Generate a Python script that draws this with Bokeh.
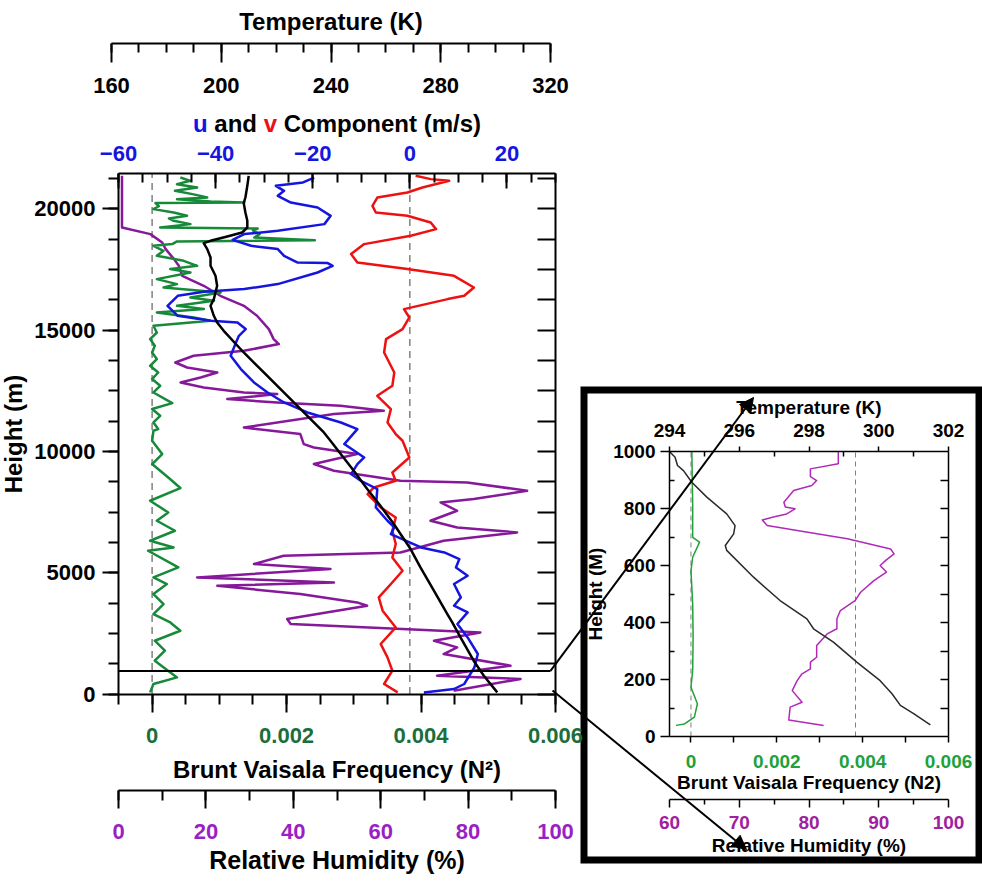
from bokeh.plotting import figure
from bokeh.models import Range1d, LinearAxis, FixedTicker, Arrow, NormalHead, Label
from bokeh.embed import file_html
from bokeh.resources import INLINE

FONT = "'Liberation Sans', Arial, sans-serif"

# ---------------- main profile data (height in m) ----------------
temp_h = [21354, 20942, 20461, 20229, 19842, 19500, 19224, 19018, 18853, 18676, 18581, 18334,
          17988, 17646, 17234, 16822, 16274, 15998, 15586, 15310, 14968, 14074, 13250, 12426,
          11602, 10778, 10436, 9200, 8446, 7758, 7004, 5974, 5216, 4256, 3296, 2950, 2332,
          1372, 754, 66]
temp_k = [210.0, 209.5, 208.8, 208.2, 208.8, 209.5, 209.5, 207.6, 202.2, 196.1, 193.6, 194.9,
          196.1, 196.1, 197.9, 198.5, 197.3, 196.1, 197.3, 198.5, 200.9, 208.2, 215.5, 222.8,
          230.1, 237.4, 239.8, 248.3, 253.2, 258.0, 262.9, 269.0, 272.6, 277.5, 282.4, 284.2,
          287.2, 292.0, 295.7, 300.6]

u_h = [21284, 21080, 20942, 20736, 20530, 20254, 20048, 19706, 19364, 19088, 18952, 18717,
       18470, 18334, 18058, 17782, 17760, 17646, 17370, 16892, 16686, 16575, 16410, 15998,
       15586, 15380, 15310, 15038, 14762, 14486, 13938, 13390, 12838, 12426, 12014, 11602,
       11190, 10918, 10300, 9748, 9476, 9064, 8788, 8446, 7688, 7140, 6864, 6592, 6040,
       5834, 5562, 5216, 4874, 4532, 3980, 3638, 3362, 2884, 2332, 1648, 1096, 412, 206, 66]
u_ms = [-19.7, -22.0, -27.6, -25.9, -27.2, -24.5, -19.0, -16.3, -17.6, -27.2, -34.1, -36.5,
        -32.7, -27.2, -25.9, -23.1, -16.9, -15.9, -19.0, -27.2, -34.1, -42.4, -47.8, -49.9,
        -47.8, -41.0, -35.5, -33.8, -35.2, -35.8, -36.9, -34.8, -32.1, -29.3, -25.9, -21.1,
        -14.2, -10.8, -13.5, -9.4, -10.8, -12.1, -10.1, -6.7, -7.0, -4.6, -3.2, -3.9, 2.3,
        7.1, 10.2, 9.5, 11.9, 9.1, 10.5, 9.1, 11.9, 9.8, 11.9, 14.0, 13.3, 11.2, 9.1, 2.9]

v_h = [21354, 21218, 21148, 20873, 20666, 20460, 20118, 19842, 19706, 19430, 19158, 18882,
       18540, 18128, 17782, 17510, 17234, 16752, 16410, 16274, 15862, 15516, 15038, 14626,
       14074, 13250, 12702, 12290, 11742, 11190, 10712, 10436, 9748, 9130, 8788, 8512, 8240,
       7688, 7276, 6728, 6180, 5628, 5080, 4532, 3980, 3432, 2744, 2060, 1508, 960, 412, 66]
v_ms = [1.2, 4.3, 8.1, 2.6, -0.5, -6.7, -7.7, -7.0, -0.5, 4.3, 5.4, 0.2,
        -9.4, -12.1, -10.8, -0.5, 9.1, 13.2, 11.2, 7.8, -1.2, -0.1, -1.5, -4.9,
        -5.3, -3.2, -3.6, -6.7, -3.9, -4.6, -2.9, -1.5, -0.1, -3.6, -2.9, -7.4, -8.7,
        -6.0, -2.9, -3.6, -2.9, -3.6, -1.5, -3.9, -6.4, -5.6, -2.9, -6.0, -4.6, -3.6, -5.3, -2.5]

n2_h = [21284, 21148, 21011, 20873, 20736, 20600, 20460, 20393, 20300, 20254, 20230, 20100,
        19982, 19842, 19706, 19600, 19500, 19364, 19224, 19180, 19100, 18952, 18812, 18700,
        18650, 18540, 18470, 18264, 18058, 17852, 17646, 17510, 17370, 17098, 16892, 16752,
        16546, 16340, 16204, 15998, 15862, 15722, 15516, 15380, 15174, 14898, 14626, 14350,
        14074, 13802, 13526, 13250, 12978, 12702, 12426, 11989, 11742, 11466, 11190, 10918,
        10848, 10436, 9888, 9476, 8924, 8487, 7964, 7482, 7140, 6728, 6316, 6040, 5904,
        5216, 4804, 4532, 4120, 3708, 3296, 2950, 2608, 2196, 1784, 1372, 684, 412, 66]
n2_val = [0.00042, 0.00057, 0.00037, 0.00067, 0.00034, 0.00060, 0.00082, 0.00037, 0.00087,
          0.00137, 0.00005, 0.00010, 0.00002, 0.00032, 0.00052, 0.00025, 0.00032, 0.00057,
          0.00012, 0.00157, 0.00150, 0.00160, 0.00152, 0.00242, 0.00037, 0.00030, 0.00002,
          0.00017, 0.00007, 0.00047, 0.00067, 0.00027, 0.00057, 0.00007, 0.00037, 0.00017,
          0.00102, 0.00057, 0.00092, 0.00037, 0.00077, 0.00007, 0.00062, 0.00087, 0.00002,
          0.00007, -0.00003, 0.00004, 0.0, 0.00007, -0.00003, 0.00009, 0.0, 0.00012, 0.00002,
          0.00030, 0.0, 0.00012, 0.00002, 0.00009, 0.00002, 0.0, 0.00015, 0.0, 0.00024,
          0.00042, -0.00003, 0.00024, 0.00007, 0.00034, -0.00003, 0.00032, -0.00006, 0.00039,
          0.00002, 0.00022, 0.00002, 0.00017, 0.00002, 0.00027, 0.00042, 0.00004, 0.00019,
          0.00004, 0.00037, 0.00002, -0.00003]

rh_h = [21354, 19224, 18952, 18606, 18334, 17922, 17646, 17234, 16822, 16410, 15998, 15586,
        15038, 14626, 14420, 14144, 13938, 13662, 13456, 13250, 13044, 12838, 12632, 12426,
        12360, 12154, 12014, 11878, 11672, 11536, 10984, 10712, 10300, 10160, 9888, 9476,
        9200, 8788, 8718, 8376, 8034, 7894, 7552, 7140, 6864, 6658, 6316, 5834, 5698, 5356,
        5150, 4804, 4598, 4462, 4120, 3774, 3638, 3090, 2884, 2538, 2196, 1920, 1648, 1166,
        754, 618, 136]
rh_pct = [0.8, 0.8, 7.3, 10.0, 10.8, 12.7, 13.8, 14.6, 19.5, 23.3, 28.7, 31.7,
          34.4, 35.5, 36.7, 28.7, 17.2, 13.0, 15.7, 22.6, 18.8, 14.2, 19.5, 28.7,
          36.3, 24.9, 36.3, 50.8, 60.7, 49.3, 28.7, 41.6, 42.4, 44.7, 54.6, 44.7,
          49.3, 64.5, 79.8, 93.5, 81.3, 73.7, 77.5, 71.4, 77.5, 91.2, 74.4, 64.5, 37.8, 31.0,
          48.5, 18.0, 49.3, 22.6, 41.6, 54.6, 56.9, 38.6, 39.4, 82.8, 72.2, 77.5, 74.4, 89.7,
          72.9, 92.0, 76.7]

# ---------------- inset (lowest 1000 m) ----------------
in_t_h = [1000, 980, 951, 933, 892, 840, 781, 740, 711, 670, 653, 559, 477, 413, 378, 331,
          261, 196, 150, 109, 80, 41]
in_t_k = [294.0, 294.16, 294.23, 294.40, 294.64, 295.07, 295.64, 295.88, 295.84, 295.60,
          295.64, 296.41, 297.17, 297.94, 298.13, 298.70, 299.37, 300.04, 300.38, 300.62,
          301.0, 301.48]
in_rh_h = [1000, 957, 939, 912, 898, 881, 863, 822, 805, 799, 781, 770, 760, 740, 723, 694,
           658, 641, 618, 600, 577, 547, 506, 477, 442, 413, 378, 360, 319, 278, 261, 237,
           220, 196, 161, 120, 103, 58, 39]
in_rh = [84.2, 84.2, 80.2, 80.2, 81.1, 80.4, 77.8, 76.4, 76.6, 78.0, 76.8, 74.9, 73.3, 74.0,
         78.3, 85.5, 91.7, 92.2, 91.0, 90.2, 91.1, 89.3, 87.4, 86.6, 84.5, 84.0, 84.0, 82.6,
         81.1, 81.1, 80.2, 80.2, 79.0, 78.3, 77.6, 79.0, 77.3, 77.1, 82.1]
in_n2_h = [1000, 816, 699, 682, 629, 582, 465, 348, 232, 173, 115, 68, 44, 39]
in_n2 = [0.00002, 0.00004, 0.00004, 0.0002, 0.00004, 0.0, 0.00004, 0.00005, 0.00004, 0.0,
         0.00015, 0.00008, -0.00015, -0.00035]

# axis extents and ticks
N2_LIM = (-0.0005, 0.006)
UV_LIM = (-60, 30)
T_LIM = (160, 320)
RH_LIM = (0, 100)
H_LIM = (0, 21450)
IT_LIM = (294, 302)
IRH_LIM = (60, 100)
IH_LIM = (0, 1000)
ZOOM_TOP = 950  # height of the zoomed layer marker

temp_ticks = [160, 200, 240, 280, 320]
uv_ticks = [-60, -40, -20, 0, 20]
n2_ticks = [0, 0.002, 0.004, 0.006]
rh_ticks = [0, 20, 40, 60, 80, 100]
h_ticks = [0, 5000, 10000, 15000, 20000]
in_temp_ticks = [294, 296, 298, 300, 302]
in_h_ticks = [0, 200, 400, 600, 800, 1000]
in_rh_ticks = [60, 70, 80, 90, 100]

BLUE = "#1515e0"
RED = "#ee1111"
GREEN = "#178a3a"
PURPLE = "#86189a"

W, H = 982, 882


class Map:
    """linear map between a data axis and canvas pixels"""
    def __init__(self, v0, p0, v1, p1):
        self.v0, self.p0, self.k = v0, p0, (v1 - v0) / (p1 - p0)

    def v(self, px):
        return self.v0 + (px - self.p0) * self.k

    def rng(self, lo_px, hi_px):
        return Range1d(self.v(lo_px), self.v(hi_px))


# where each scale sits on the canvas
m_n2 = Map(N2_LIM[0], 118, N2_LIM[1], 555)
m_uv = Map(UV_LIM[0], 118, UV_LIM[1], 555)
m_t = Map(T_LIM[0], 111, T_LIM[1], 550)
m_rh = Map(RH_LIM[0], 118, RH_LIM[1], 555)
m_h = Map(H_LIM[0], 693.5, H_LIM[1], 173)
i_n2 = Map(N2_LIM[0], 669, N2_LIM[1], 948)
i_t = Map(IT_LIM[0], 669, IT_LIM[1], 948)
i_rh = Map(IRH_LIM[0], 669, IRH_LIM[1], 948)
i_h = Map(IH_LIM[0], 736, IH_LIM[1], 451)

p = figure(width=W, height=H, min_border=0, title=None, x_range=m_n2.rng(0, W),
           y_range=m_h.rng(H, 0), x_axis_location=None, y_axis_location=None,
           output_backend="svg", toolbar_location=None, outline_line_color=None)
p.xgrid.visible = False
p.ygrid.visible = False
p.extra_x_ranges = {"uv": m_uv.rng(0, W), "temp": m_t.rng(0, W), "rh": m_rh.rng(0, W),
                    "in2": i_n2.rng(0, W), "it": i_t.rng(0, W), "irh": i_rh.rng(0, W)}
p.extra_y_ranges = {"ih": i_h.rng(H, 0)}


def axis(side, ticks, minor, loc, bounds, xr="default", yr="default", label=None, lcolor="black",
         lsize="22px", tsize="24px", mto=0, mti=0, nto=0, nti=0, lso=5, tso=5, lw=2, overrides=None):
    ax = LinearAxis(ticker=FixedTicker(ticks=ticks, minor_ticks=minor), fixed_location=loc,
                    bounds=bounds, x_range_name=xr, y_range_name=yr)
    if label:
        ax.axis_label = label
    if overrides:
        ax.major_label_overrides = overrides
    ax.major_label_text_font = FONT
    ax.major_label_text_font_size = lsize
    ax.major_label_text_font_style = "bold"
    ax.major_label_text_color = lcolor
    ax.axis_label_text_font = FONT
    ax.axis_label_text_font_size = tsize
    ax.axis_label_text_font_style = "bold"
    ax.axis_label_text_color = "black"
    ax.major_tick_out, ax.major_tick_in = mto, mti
    ax.minor_tick_out, ax.minor_tick_in = nto, nti
    ax.major_label_standoff = lso
    ax.axis_label_standoff = tso
    for a in ("axis_line", "major_tick_line", "minor_tick_line"):
        setattr(ax, a + "_width", lw)
        setattr(ax, a + "_color", "black")
    p.add_layout(ax, side)
    return ax


n2_over = {0: "0", 0.002: "0.002", 0.004: "0.004", 0.006: "0.006"}

# ---------------- main panel axes ----------------
hminor = [i * 1250 for i in range(18)]
axis("left", h_ticks, hminor, N2_LIM[0], H_LIM, label="Height (m)", mto=16, nto=10, lso=7, tso=4)
axis("right", [], hminor, N2_LIM[1], H_LIM, nti=18)
axis("above", uv_ticks, list(range(-60, 31, 5)), H_LIM[1], UV_LIM, xr="uv", lcolor=BLUE,
     mti=15, nti=9, lso=13)
axis("below", n2_ticks, [-0.0005 + 0.0005 * i for i in range(14)], H_LIM[0], N2_LIM,
     label="Brunt Vaisala Frequency (N\u00b2)", lcolor="#1b6e3c", mto=18, nto=10, lso=16, tso=9)
axis("below", rh_ticks, list(range(0, 101, 10)), m_h.v(790), RH_LIM, xr="rh",
     label="Relative Humidity (%)", lcolor="#9a1fc4", tsize="25px", mto=18, nto=10, lso=15, tso=4)
axis("below", temp_ticks, list(range(160, 321, 10)), m_h.v(43), T_LIM, xr="temp",
     mto=19, nto=9, lso=15)

p.add_layout(Label(x=sum(T_LIM) / 2, y=m_h.v(21), x_range_name="temp", text="Temperature (K)",
                   text_font=FONT, text_font_size="24px", text_font_style="bold",
                   text_color="black", text_align="center", text_baseline="middle"))

# two-colour title of the wind axis (Arial/Liberation bold advance widths, em/1000)
ADV = {"u": 611, "a": 556, "n": 611, "d": 611, "v": 556, " ": 278, "C": 722, "o": 611, "m": 889,
       "p": 611, "e": 556, "t": 333, "(": 333, "/": 278, "s": 556, ")": 333}
pieces = [("u", BLUE), (" ", None), ("and", "black"), (" ", None), ("v", RED), (" ", None),
          ("Component (m/s)", "black")]
FS = 24
total = sum(ADV[c] for t, _ in pieces for c in t) * FS / 1000
px = (118 + 555) / 2 - total / 2
for txt, col in pieces:
    if col:
        p.add_layout(Label(x=m_uv.v(px), y=m_h.v(123), x_range_name="uv", text=txt,
                           text_color=col, text_font=FONT, text_font_size=f"{FS}px",
                           text_font_style="bold", text_baseline="middle", text_align="left"))
    px += sum(ADV[c] for c in txt) * FS / 1000

uv0 = N2_LIM[0] + (0 - UV_LIM[0]) / (UV_LIM[1] - UV_LIM[0]) * (N2_LIM[1] - N2_LIM[0])
for xv in (0.0, uv0):
    p.line([xv, xv], list(H_LIM), line_color="#808080", line_dash="7 5", line_width=1.5)

LJ = "round"
p.line(rh_pct, rh_h, x_range_name="rh", line_color=PURPLE, line_width=2.5, line_join=LJ)
p.line(n2_val, n2_h, line_color=GREEN, line_width=2.5, line_join=LJ)
p.line(v_ms, v_h, x_range_name="uv", line_color=RED, line_width=2.5, line_join=LJ)
p.line(u_ms, u_h, x_range_name="uv", line_color=BLUE, line_width=2.5, line_join=LJ)
p.line(temp_k, temp_h, x_range_name="temp", line_color="black", line_width=2.5, line_join=LJ)

# ---------------- inset panel ----------------
p.quad(left=i_n2.v(583.5), right=i_n2.v(978.5), top=i_h.v(389.5), bottom=i_h.v(859.5),
       x_range_name="in2", y_range_name="ih", fill_color="white", line_color="black",
       line_width=7, line_join="miter")

axis("above", in_temp_ticks, [295, 297, 299, 301], IH_LIM[1], IT_LIM, xr="it", yr="ih",
     label="Temperature (K)", lsize="19px", tsize="19px", mto=5, nti=5, lso=10, tso=3, lw=1.5)
ihminor = list(range(100, 1000, 200))
axis("left", in_h_ticks, ihminor, N2_LIM[0], IH_LIM, xr="in2", yr="ih", label="Height (M)",
     lsize="19px", tsize="19px", mto=9, nti=5, lso=5, tso=4, lw=1.5)
axis("right", [], list(range(100, 1000, 100)), N2_LIM[1], IH_LIM, xr="in2", yr="ih",
     nti=8, lw=1.5)
axis("below", n2_ticks, [0.001, 0.003, 0.005], IH_LIM[0], N2_LIM, xr="in2", yr="ih",
     label="Brunt Vaisala Frequency (N2)", lcolor="#22a03a", lsize="19px", tsize="19px",
     mto=6, nto=6, lso=12, tso=1, lw=1.5, overrides=n2_over)
axis("below", in_rh_ticks, [65, 75, 85, 95], i_h.v(799), IRH_LIM, xr="irh", yr="ih",
     label="Relative Humidity (%)", lcolor="#a0209e", lsize="19px", tsize="19px",
     mto=8, nto=5, lso=8, tso=3, lw=1.5)

for xv in (0.0, uv0):
    p.line([xv, xv], list(IH_LIM), x_range_name="in2", y_range_name="ih",
           line_color="#808080", line_dash="5 4", line_width=1)
p.line(in_rh, in_rh_h, x_range_name="irh", y_range_name="ih", line_color="#b02ab8",
       line_width=1.5, line_join=LJ)
p.line(in_n2, in_n2_h, x_range_name="in2", y_range_name="ih", line_color="#22a03a",
       line_width=1.5, line_join=LJ)
p.line(in_t_k, in_t_h, x_range_name="it", y_range_name="ih", line_color="#2a2a2a",
       line_width=1.5, line_join=LJ)

# ---------------- zoom marker and connectors ----------------
x_kink = m_n2.v(550)
p.line([N2_LIM[0], x_kink], [ZOOM_TOP, ZOOM_TOP], line_color="black", line_width=2)
p.add_layout(Arrow(x_start=x_kink, y_start=ZOOM_TOP, x_end=m_n2.v(753), y_end=m_h.v(397),
                   end=NormalHead(size=14, fill_color="black", line_color="black"),
                   line_color="black", line_width=2))
p.add_layout(Arrow(x_start=m_n2.v(552), y_start=m_h.v(690), x_end=m_n2.v(746), y_end=m_h.v(849),
                   end=NormalHead(size=14, fill_color="black", line_color="black"),
                   line_color="black", line_width=2))

open("out.html", "w").write(file_html(p, INLINE))
